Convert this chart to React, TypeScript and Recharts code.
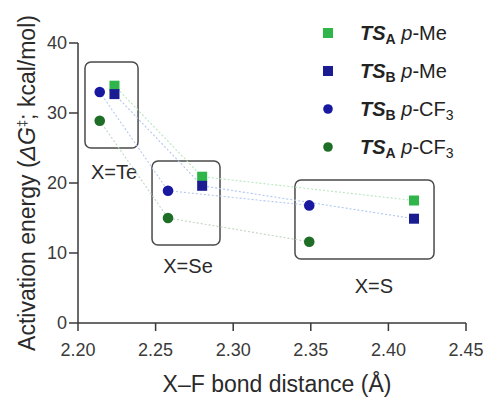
import React from 'react';
import {
  ScatterChart,
  Scatter,
  XAxis,
  YAxis,
  ReferenceArea,
  ReferenceDot,
} from 'recharts';

// ---------- data ----------
const circleDistances = [2.214, 2.258, 2.349];
const squareDistances = [2.2235, 2.28, 2.4165];

const tsAMe = [33.9, 20.9, 17.5];
const tsBMe = [32.7, 19.6, 14.9];
const tsBCF3 = [33.0, 18.9, 16.8];
const tsACF3 = [28.9, 15.0, 11.6];

const xTicks = [2.2, 2.25, 2.3, 2.35, 2.4, 2.45];
const yTicks = [0, 10, 20, 30, 40];

const groupLabels = ['X=Te', 'X=Se', 'X=S'];
// group boxes in data units: [x1, x2, y1, y2]
const groupBoxX1 = [2.2045, 2.2477, 2.3398];
const groupBoxX2 = [2.2387, 2.2915, 2.4294];
const groupBoxY1 = [25.0, 11.14, 9.14];
const groupBoxY2 = [37.3, 23.14, 20.43];
const groupLabelX = [2.2232, 2.2709, 2.3907];
const groupLabelY = [20.6, 7.14, 4.29];

const legendTs = ['A', 'B', 'B', 'A'];
const legendSub = ['Me', 'Me', 'CF3', 'CF3'];

// ---------- styles ----------
const FONT = "'Liberation Sans', Arial, Helvetica, sans-serif";
const AXIS = '#383838';

const toPoints = (xs: number[], ys: number[]) => xs.map((x, i) => ({ x, y: ys[i] }));

const seriesDefs = [
  { key: 'tsAMe', data: toPoints(squareDistances, tsAMe), color: '#2fb54a', shape: 'square', line: '#b9e6bd' },
  { key: 'tsBMe', data: toPoints(squareDistances, tsBMe), color: '#1b1b92', shape: 'square', line: '#b0c6ee' },
  { key: 'tsBCF3', data: toPoints(circleDistances, tsBCF3), color: '#1818a0', shape: 'circle', line: '#b6caee' },
  { key: 'tsACF3', data: toPoints(circleDistances, tsACF3), color: '#1f6e27', shape: 'circle', line: '#c2d6c2' },
];

const makeShape = (kind: string, color: string) => (props: any) => {
  const { cx, cy } = props;
  if (cx == null || cy == null) return <g />;
  if (kind === 'square') {
    return <rect x={cx - 5} y={cy - 5} width={10} height={10} fill={color} />;
  }
  return <circle cx={cx} cy={cy} r={5.3} fill={color} />;
};

const BoxShape = (props: any) => {
  const { x, y, width, height } = props;
  return (
    <rect x={x} y={y} width={width} height={height} rx={6} ry={6} fill="none" stroke="#4a4a4a" strokeWidth={1.5} />
  );
};

const makeLabelShape = (text: string) => (props: any) => (
  <text x={props.cx} y={props.cy} textAnchor="middle" fontSize={20} fill="#2a2a2a" fontFamily={FONT}>
    {text}
  </text>
);

const legendBaselines = [40, 78, 116, 154];

const Legendish = () => (
  <g fontFamily={FONT}>
    {seriesDefs.map((s, i) => {
      const by = legendBaselines[i];
      const my = by - 7;
      const sub = legendSub[i];
      return (
        <g key={s.key}>
          {s.shape === 'square' ? (
            <rect x={323} y={my - 5} width={10} height={10} fill={s.color} />
          ) : (
            <circle cx={328} cy={my} r={4.8} fill={s.color} />
          )}
          <text x={360} y={by} fontSize={20} fill="#222">
            <tspan fontWeight="bold" fontStyle="italic">TS</tspan>
            <tspan fontWeight="bold" fontSize={14} dy={4}>{legendTs[i]}</tspan>
            <tspan dy={-4} fontStyle="italic">{' p'}</tspan>
            {sub === 'CF3' ? (
              <>
                <tspan>-CF</tspan>
                <tspan fontSize={14} dy={4}>3</tspan>
              </>
            ) : (
              <tspan>-Me</tspan>
            )}
          </text>
        </g>
      );
    })}
  </g>
);

const AxisTitles = () => (
  <g fontFamily={FONT} fill="#2a2a2a">
    <text x={277} y={392} textAnchor="middle" fontSize={23}>
      X–F bond distance (Å)
    </text>
    <text x={35} y={183} textAnchor="middle" fontSize={23} transform="rotate(-90, 35, 183)">
      <tspan>Activation energy (</tspan>
      <tspan fontStyle="italic">ΔG</tspan>
      <tspan fontSize={13} dy={-9}>‡</tspan>
      <tspan dy={9}>; kcal/mol)</tspan>
    </text>
  </g>
);

export default function App() {
  return (
    <div style={{ position: 'absolute', left: 0, top: 0, width: 486, height: 397, background: '#fff' }}>
      <ScatterChart
        width={486}
        height={397}
        margin={{ top: 43, right: 20, bottom: 0, left: 38 }}
        style={{ fontFamily: FONT }}
      >
        <XAxis
          type="number"
          dataKey="x"
          domain={[2.2, 2.45]}
          ticks={xTicks}
          tickFormatter={(v: number) => v.toFixed(2)}
          allowDataOverflow
          height={74}
          tickSize={8}
          tickMargin={12}
          axisLine={{ stroke: AXIS, strokeWidth: 1.5 }}
          tickLine={{ stroke: AXIS, strokeWidth: 1.5 }}
          tick={{ fontSize: 18, fill: '#3a3a3a', fontFamily: FONT }}
        />
        <YAxis
          type="number"
          dataKey="y"
          domain={[0, 40]}
          ticks={yTicks}
          allowDataOverflow
          width={40}
          tickSize={9}
          tickMargin={2}
          axisLine={{ stroke: AXIS, strokeWidth: 1.5 }}
          tickLine={{ stroke: AXIS, strokeWidth: 1.5 }}
          tick={{ fontSize: 18, fill: '#3a3a3a', fontFamily: FONT }}
        />
        {groupLabels.map((g, i) => (
          <ReferenceArea
            key={'box' + g}
            x1={groupBoxX1[i]}
            x2={groupBoxX2[i]}
            y1={groupBoxY1[i]}
            y2={groupBoxY2[i]}
            shape={BoxShape}
            ifOverflow="visible"
          />
        ))}
        {groupLabels.map((g, i) => (
          <ReferenceDot
            key={'lbl' + g}
            x={groupLabelX[i]}
            y={groupLabelY[i]}
            r={1}
            shape={makeLabelShape(g)}
            ifOverflow="visible"
          />
        ))}
        {seriesDefs.map((s) => (
          <Scatter
            key={s.key}
            name={s.key}
            data={s.data}
            isAnimationActive={false}
            line={{ stroke: s.line, strokeWidth: 1.1, strokeDasharray: '2 2' }}
            lineType="joint"
            shape={makeShape(s.shape, s.color)}
          />
        ))}
        <Legendish />
        <AxisTitles />
      </ScatterChart>
    </div>
  );
}
